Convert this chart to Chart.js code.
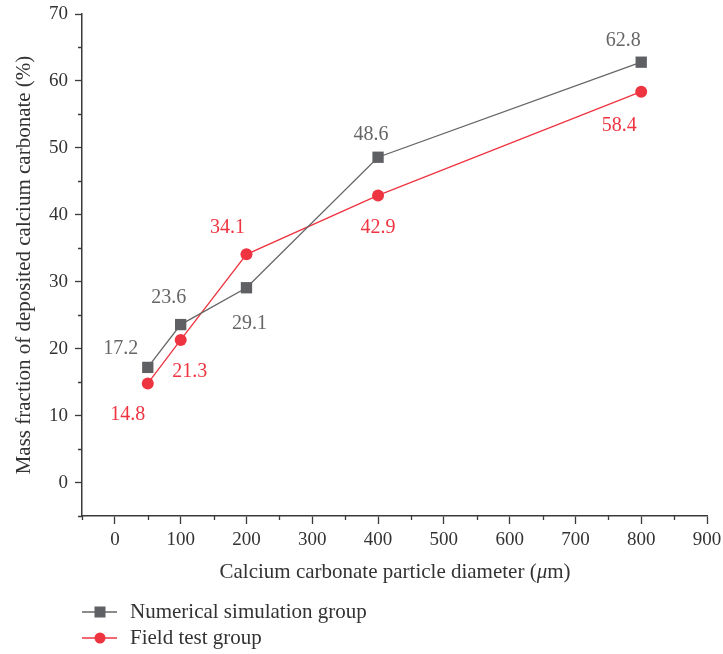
<!DOCTYPE html>
<html>
<head>
<meta charset="utf-8">
<script src="https://cdn.jsdelivr.net/npm/chart.js@4.4.1/dist/chart.umd.min.js"></script>
<style>
  html, body { margin: 0; padding: 0; background: #fff; }
  #wrap { position: relative; width: 723px; height: 654px; }
</style>
</head>
<body>
<div id="wrap"><canvas id="chart" width="723" height="654"></canvas></div>
<script>
// data
const diameters = [50, 100, 200, 400, 800]
const simulationValues = [17.2, 23.6, 29.1, 48.6, 62.8]
const fieldValues = [14.8, 21.3, 34.1, 42.9, 58.4]
const xTickValues = [0, 100, 200, 300, 400, 500, 600, 700, 800, 900]
const yTickValues = [0, 10, 20, 30, 40, 50, 60, 70]

const FONT = "'Liberation Serif', 'Times New Roman', serif"
const GRAY = "#666666"
const GRAY_MARK = "#5f6064"
const RED = "#ee3440"
const AXIS = "#3a3a3a"

// label offsets (px) from each point, per series
const simOffsets = [[-27, -19], [-12, -27], [3, 36], [-7, -22], [-18, -21]]
const fieldOffsets = [[-20, 31], [9, 32], [-19, -27], [0, 32], [-22, 34]]

const toPoints = (xs, ys) => xs.map((x, i) => ({ x: x, y: ys[i] }))

// value labels, minor ticks, axis titles and legend
const extras = {
  id: "extras",
  afterDatasetsDraw(chart) {
    const ctx = chart.ctx
    const xs = chart.scales.x
    const ys = chart.scales.y
    ctx.save()
    ctx.font = "20px " + FONT
    ctx.textAlign = "center"
    ctx.textBaseline = "middle"
    const drawLabels = (vals, offs, color) => {
      ctx.fillStyle = color
      vals.forEach((v, i) => {
        const px = xs.getPixelForValue(diameters[i])
        const py = ys.getPixelForValue(v)
        ctx.fillText(v.toFixed(1), px + offs[i][0], py + offs[i][1])
      })
    }
    drawLabels(simulationValues, simOffsets, GRAY)
    drawLabels(fieldValues, fieldOffsets, RED)

    // minor ticks
    ctx.strokeStyle = AXIS
    ctx.lineWidth = 1.3
    ctx.beginPath()
    for (let v = -50; v <= 850; v += 100) {
      const px = Math.round(xs.getPixelForValue(v)) + 0.5
      ctx.moveTo(px, xs.top)
      ctx.lineTo(px, xs.top + 4)
    }
    for (let v = -5; v <= 65; v += 10) {
      const py = Math.round(ys.getPixelForValue(v)) + 0.5
      ctx.moveTo(ys.right, py)
      ctx.lineTo(ys.right - 4, py)
    }
    ctx.stroke()

    // x title with italic mu
    ctx.fillStyle = "#333"
    ctx.textAlign = "left"
    const t1 = "Calcium carbonate particle diameter ("
    const t2 = "\u03bc"
    const t3 = "m)"
    ctx.font = "21px " + FONT
    const w1 = ctx.measureText(t1).width
    const w3 = ctx.measureText(t3).width
    ctx.font = "italic 21px " + FONT
    const w2 = ctx.measureText(t2).width
    const sx = 395 - (w1 + w2 + w3) / 2
    const ty = 572
    ctx.font = "21px " + FONT
    ctx.fillText(t1, sx, ty)
    ctx.font = "italic 21px " + FONT
    ctx.fillText(t2, sx + w1, ty)
    ctx.font = "21px " + FONT
    ctx.fillText(t3, sx + w1 + w2, ty)

    // y title
    ctx.save()
    ctx.translate(24, 265)
    ctx.rotate(-Math.PI / 2)
    ctx.textAlign = "center"
    ctx.fillText("Mass fraction of deposited calcium carbonate (%)", 0, 0)
    ctx.restore()

    // legend
    const items = [
      { text: "Numerical simulation group", color: GRAY, mark: GRAY_MARK, square: true, y: 612 },
      { text: "Field test group", color: RED, mark: RED, square: false, y: 638 }
    ]
    items.forEach((it) => {
      ctx.strokeStyle = it.color
      ctx.lineWidth = 1.3
      ctx.beginPath()
      ctx.moveTo(82, it.y)
      ctx.lineTo(117, it.y)
      ctx.stroke()
      ctx.fillStyle = it.mark
      if (it.square) {
        ctx.fillRect(94.5, it.y - 5.5, 11, 11)
      } else {
        ctx.beginPath()
        ctx.arc(100, it.y, 5.5, 0, Math.PI * 2)
        ctx.fill()
      }
      ctx.fillStyle = "#333"
      ctx.textAlign = "left"
      ctx.font = "21px " + FONT
      ctx.fillText(it.text, 130, it.y)
    })
    ctx.restore()
  }
}

new Chart(document.getElementById("chart"), {
  type: "line",
  data: {
    datasets: [
      {
        label: "Numerical simulation group",
        data: toPoints(diameters, simulationValues),
        borderColor: GRAY,
        backgroundColor: GRAY_MARK,
        borderWidth: 1.3,
        pointStyle: "rect",
        pointRadius: 8,
        pointBorderWidth: 0,
        tension: 0
      },
      {
        label: "Field test group",
        data: toPoints(diameters, fieldValues),
        borderColor: RED,
        backgroundColor: RED,
        borderWidth: 1.3,
        pointStyle: "circle",
        pointRadius: 6,
        pointBorderWidth: 0,
        tension: 0
      }
    ]
  },
  options: {
    responsive: false,
    animation: false,
    layout: { padding: { left: 0, top: 14, right: 16, bottom: 0 } },
    plugins: {
      legend: { display: false },
      tooltip: { enabled: false }
    },
    scales: {
      x: {
        type: "linear",
        min: -50,
        max: 900,
        afterBuildTicks: (s) => { s.ticks = xTickValues.map((v) => ({ value: v })) },
        afterFit: (s) => { s.height = 138; s.paddingLeft = 0; s.paddingRight = 0 },
        ticks: { color: "#333", padding: 5, font: { family: FONT, size: 19 } },
        grid: { drawOnChartArea: false, tickLength: 8, tickColor: AXIS, tickWidth: 1.3 },
        border: { color: AXIS, width: 1.5 }
      },
      y: {
        type: "linear",
        min: -5,
        max: 70,
        afterBuildTicks: (s) => { s.ticks = yTickValues.map((v) => ({ value: v })) },
        afterFit: (s) => { s.width = 82; s.paddingTop = 0; s.paddingBottom = 0 },
        ticks: { color: "#333", padding: 7, font: { family: FONT, size: 19 } },
        grid: { drawOnChartArea: false, tickLength: 7, tickColor: AXIS, tickWidth: 1.3 },
        border: { color: AXIS, width: 1.5 }
      }
    }
  },
  plugins: [extras]
})
</script>
</body>
</html>
